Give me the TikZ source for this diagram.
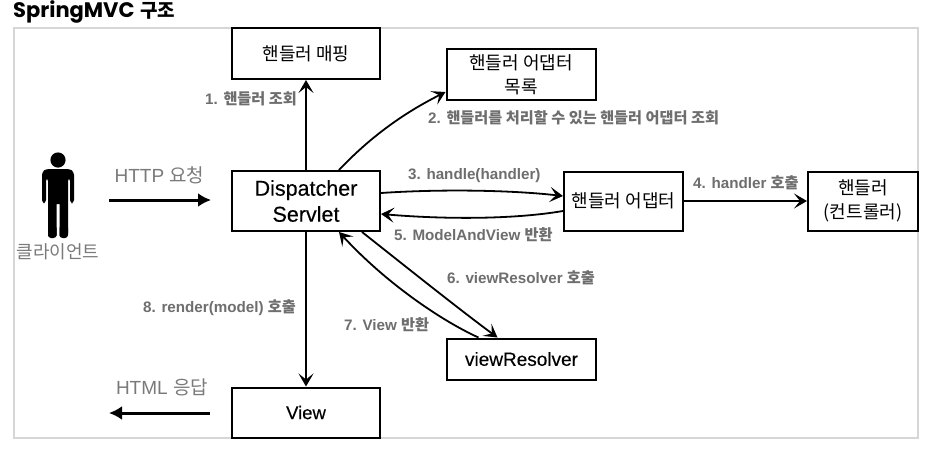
\documentclass[tikz,border=0pt]{standalone}
\usepackage{fontspec}
\setmainfont{Liberation Sans}
\newfontfamily\kr{Noto Sans CJK KR}
\newfontfamily\lat[FakeBold=0.25]{Liberation Sans}
\newfontfamily\ttl{Poppins}
\usetikzlibrary{arrows.meta,calc}
\definecolor{lab}{HTML}{6E6E6E}
\definecolor{hdr}{HTML}{7A7A7A}
\definecolor{frm}{HTML}{D6D6D6}
\tikzset{
  x=1pt,y=-1pt,
  boxn/.style={draw=black,line width=2pt,fill=white,inner sep=0pt,align=center,font=\fontsize{18}{25}\selectfont\kr,text=black},
  lbl/.style={inner sep=0pt,text=lab,font=\fontsize{15.2}{17}\selectfont\bfseries},
  big/.style={inner sep=0pt,text=hdr,font=\fontsize{19}{21}\selectfont},
  conn/.style={line width=1.8pt,draw=black,-{Stealth[length=13pt,width=15pt,inset=6pt]}},
  fat/.style={line width=3pt,draw=black,-{Latex[length=13pt,width=14pt]}}
}
\begin{document}
\begin{tikzpicture}
\useasboundingbox (0,0) rectangle (928,450);
\fill[white] (0,0) rectangle (928,450);
\draw[frm,line width=1.6pt] (14,28) rectangle (918,438);
\node[anchor=base west,inner sep=0pt,text height=14pt,text depth=4pt,font=\fontsize{21}{23}\selectfont\bfseries] (title) at (13,17) {{\ttl SpringMVC} {\fontsize{19}{21}\selectfont\kr 구조}};

\node[boxn,minimum width=148pt,minimum height=51pt] (hm) at (306,53.5) {핸들러 매핑};
\node[boxn,minimum width=149pt,minimum height=51pt] (list) at (521,74.5) {핸들러 어댑터\\[-1pt]목록};
\node[boxn,minimum width=148pt,minimum height=60pt,font=\fontsize{21.5}{26}\selectfont\lat] (disp) at (306,201) {Dispatcher\\Servlet};
\node[boxn,minimum width=119pt,minimum height=59pt] (adp) at (623.5,201) {핸들러 어댑터};
\node[boxn,minimum width=110pt,minimum height=59pt] (hd) at (863,201) {핸들러\\[-1pt](컨트롤러)};
\node[boxn,minimum width=149pt,minimum height=41pt,font=\fontsize{19}{22}\selectfont\lat] (vr) at (521.5,359) {viewResolver};
\node[boxn,minimum width=148pt,minimum height=50pt,font=\fontsize{18.5}{22}\selectfont\lat] (view) at (306,412.5) {View};

% person
\fill[black] (58,160) circle (7.6);
\fill[black,rounded corners=3pt] (42,203) -- (42,172) -- (46,169) -- (70,169) -- (74,172) -- (74,203) -- (70,203) -- (70,178) -- (68,178) -- (68,236) [sharp corners] -- (59.5,236) -- (59.5,204) -- (56.5,204) -- (56.5,236) -- (48,236) [rounded corners=3pt] -- (48,178) -- (46,178) -- (46,203) -- cycle;
\fill[black,rounded corners=3pt] (48,225) rectangle (56.5,238);
\fill[black,rounded corners=3pt] (59.5,225) rectangle (68,238);
\node[inner sep=0pt,text=hdr,font=\fontsize{18}{20}\selectfont\kr] (client) at (58,252) {클라이언트};

\coordinate (hs) at (109,200);
\coordinate (he) at (211,200);
\draw[fat] (hs) -- (he);
\coordinate (rs) at (210,413);
\coordinate (re) at (109,413);
\draw[fat] (rs) -- (re);
\node[big] (httpl) at (159.5,175) {HTTP {\kr 요청}};
\node[big] (htmll) at (162,387) {HTML {\kr 응답}};

% connectors
\draw[conn] (disp.north) -- (hm.south);
\draw[conn] ([xshift=33pt]disp.north) .. controls (375,132) and (410,110) .. ([yshift=-17.5pt]list.west);
\draw[conn] ([yshift=8pt]disp.east) .. controls (440,189) and (510,190) .. ([yshift=5pt]adp.west);
\draw[conn] ([yshift=-10pt]adp.west) .. controls (510,220) and (440,219) .. ([yshift=-13pt]disp.east);
\draw[conn] (adp.east) -- (hd.west);
\draw[conn] ([xshift=56pt]disp.south) .. controls (400,262) and (460,310) .. ([xshift=-24pt]vr.north);
\draw[conn] ([xshift=-43pt]vr.north) .. controls (440,320) and (385,282) .. ([xshift=33pt]disp.south);
\draw[conn] (disp.south) -- (view.north);

% labels
\node[lbl,anchor=west] (l1) at (205,99) {1. {\kr 핸들러 조회}};
\node[lbl,anchor=west] (l2) at (428,118) {2. {\kr 핸들러를 처리할 수 있는 핸들러 어댑터 조회}};
\node[lbl,anchor=west] (l3) at (408,176) {3. handle(handler)};
\node[lbl,anchor=west] (l4) at (693,183) {4. handler {\kr 호출}};
\node[lbl,anchor=west] (l5) at (394,235) {5. ModelAndView {\kr 반환}};
\node[lbl,anchor=west] (l6) at (447,278) {6. viewResolver {\kr 호출}};
\node[lbl,anchor=west] (l7) at (344,325) {7. View {\kr 반환}};
\node[lbl,anchor=west] (l8) at (143,308) {8. render(model) {\kr 호출}};
\end{tikzpicture}
\end{document}
